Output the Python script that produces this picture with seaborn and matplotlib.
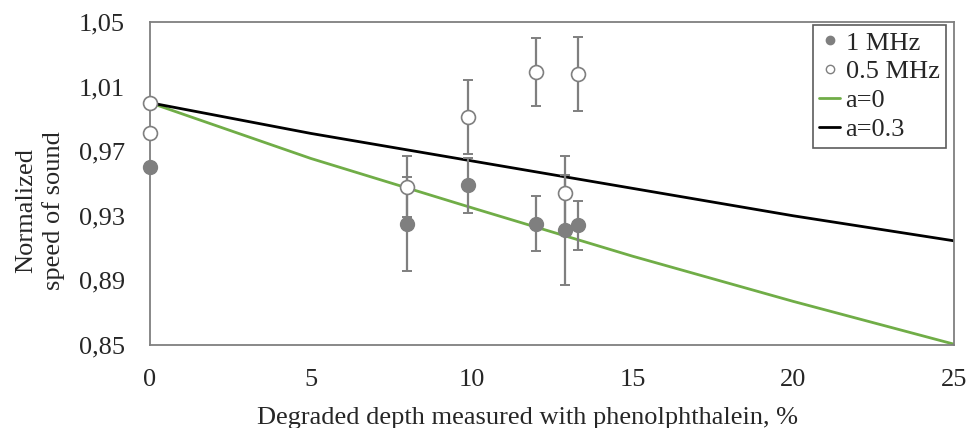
import numpy as np
import pandas as pd
import matplotlib
matplotlib.use('Agg')
import matplotlib.pyplot as plt
from matplotlib.ticker import MultipleLocator, FixedLocator, FixedFormatter
from matplotlib.lines import Line2D
import seaborn as sns

# measured points (depth %, normalized speed, +/- error)
depth_1mhz = [0.0, 8.0, 9.9, 12.0, 12.9, 13.3]
speed_1mhz = [0.960, 0.925, 0.949, 0.925, 0.921, 0.924]
err_1mhz = [0.0, 0.029, 0.017, 0.017, 0.034, 0.015]

depth_05mhz = [0.0, 0.0, 8.0, 9.9, 12.0, 12.9, 13.3]
speed_05mhz = [1.000, 0.981, 0.948, 0.991, 1.019, 0.944, 1.018]
err_05mhz = [0.0, 0.0, 0.019, 0.023, 0.021, 0.023, 0.023]

# model curves
model_depth = [0, 5, 10, 15, 20, 25]
model_a0 = [1.000, 0.9655, 0.935, 0.905, 0.877, 0.8505]
model_a03 = [1.000, 0.981, 0.964, 0.947, 0.930, 0.9145]

y_ticks = [0.85, 0.89, 0.93, 0.97, 1.01, 1.05]
y_minor = [0.86, 0.90, 0.94, 0.98, 1.02]
y_ticklabels = ['0,85', '0,89', '0,93', '0,97', '1,01', '1,05']
x_ticks = [0, 5, 10, 15, 20, 25]

sns.set_style('white')
plt.rcParams['font.family'] = ['Liberation Serif', 'DejaVu Serif']
FS = 19

fig = plt.figure(figsize=(9.68, 4.28), dpi=100)
ax = fig.add_axes([0.155, 0.194, 0.8305, 0.7546])

gray = '#7f7f7f'
curves = pd.DataFrame({'x': model_depth + model_depth,
                       'y': model_a0 + model_a03,
                       'model': ['a=0'] * 6 + ['a=0.3'] * 6})
sns.lineplot(data=curves, x='x', y='y', hue='model',
             palette={'a=0': '#70ad47', 'a=0.3': '#000000'},
             linewidth=2, ax=ax, legend=False, zorder=2)

for xs, ys, es in [(depth_1mhz, speed_1mhz, err_1mhz), (depth_05mhz, speed_05mhz, err_05mhz)]:
    ax.errorbar(xs, ys, yerr=es, fmt='none', ecolor=gray,
                elinewidth=1.6, capsize=3.5, capthick=1.4, zorder=3)

sns.scatterplot(x=depth_1mhz, y=speed_1mhz, color=gray, edgecolor=gray,
                s=100, linewidth=1, ax=ax, zorder=4, clip_on=False)
sns.scatterplot(x=depth_05mhz, y=speed_05mhz, color='white', edgecolor=gray,
                s=100, linewidth=1.2, ax=ax, zorder=4, clip_on=False)

ax.set_xlim(0, 25)
ax.set_ylim(0.85, 1.05)
ax.xaxis.set_major_locator(FixedLocator(x_ticks))
ax.xaxis.set_minor_locator(MultipleLocator(1))
ax.yaxis.set_major_locator(FixedLocator(y_ticks))
ax.yaxis.set_major_formatter(FixedFormatter(y_ticklabels))
ax.yaxis.set_minor_locator(FixedLocator(y_minor))
ax.tick_params(axis='both', which='both', direction='in', color=gray,
               labelsize=FS, width=1)
ax.tick_params(axis='both', which='major', length=7)
ax.tick_params(axis='x', which='major', pad=17)
ax.tick_params(axis='y', which='major', pad=18)
ax.tick_params(axis='both', which='minor', length=4)
for sp in ax.spines.values():
    sp.set_color(gray)
    sp.set_linewidth(1.3)

ax.set_xlabel('Degraded depth measured with phenolphthalein, %', fontsize=FS)
ax.xaxis.set_label_coords(0.470, -0.192)
ax.set_ylabel('Normalized\nspeed of sound', fontsize=FS, linespacing=1.25)
ax.yaxis.set_label_coords(-0.106, 0.415)

handles = [
    Line2D([], [], marker='o', linestyle='none', color=gray, markersize=6),
    Line2D([], [], marker='o', linestyle='none', markerfacecolor='white',
           markeredgecolor=gray, markersize=6),
    Line2D([], [], color='#70ad47', linewidth=2),
    Line2D([], [], color='black', linewidth=2),
]
leg = ax.legend(handles, ['1 MHz', '0.5 MHz', 'a=0', 'a=0.3'], loc='upper right',
                bbox_to_anchor=(0.9935, 1.0), fontsize=FS, frameon=True, fancybox=False,
                handlelength=0.8, handletextpad=0.2, borderpad=0.25, labelspacing=0.2,
                borderaxespad=0.1)
leg.get_frame().set_edgecolor('#333333')
leg.get_frame().set_linewidth(1.2)

fig.savefig('out.png', dpi=100)
